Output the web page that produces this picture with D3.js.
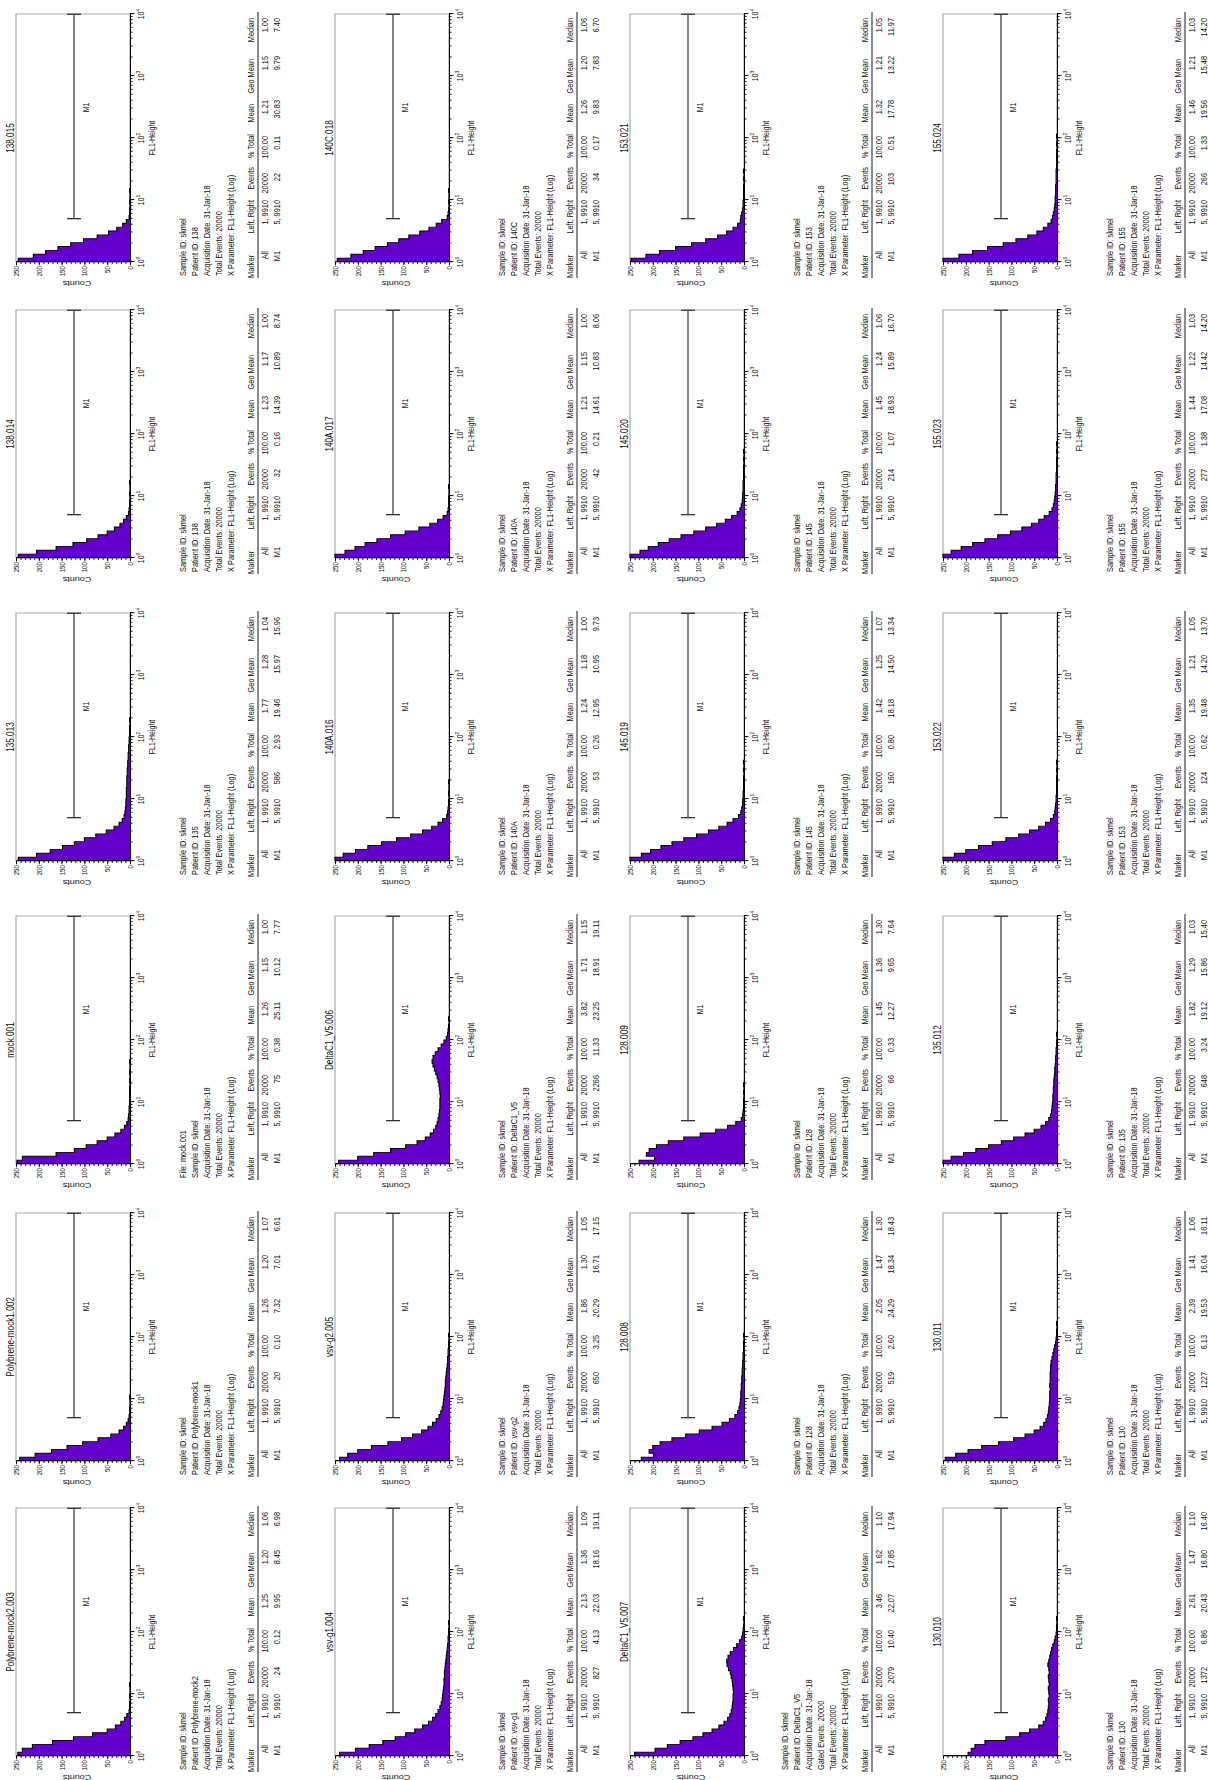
<!DOCTYPE html>
<html>
<head>
<meta charset="utf-8">
<title>FL1-Height histograms</title>
<script src="https://cdn.jsdelivr.net/npm/d3@7"></script>
<style>
  body { margin: 0; background: #fff; }
  svg text { font-family: "Liberation Sans", Arial, sans-serif; fill: #111; }
  .axis .domain, .axis line { stroke: #000; }
</style>
</head>
<body>
<svg id="chart" width="1208" height="1780"></svg>
<script>
// --- Data: panels in page order (4 rows x 6 columns, read left to right) ---
const panelNames = [
  "Polybrene-mock2.003", "Polybrene-mock1.002", "mock.001", "135.013", "138.014", "138.015",
  "vsv-g1.004", "vsv-g2.005", "DeltaC1_V5.006", "140A.016", "140A.017", "140C.018",
  "DeltaC1_V5.007", "128.008", "128.009", "145.019", "145.020", "153.021",
  "130.010", "130.011", "135.012", "153.022", "155.023", "155.024"
];

const patientIds = [
  "Polybrene-mock2", "Polybrene-mock1", null, "135", "138", "138",
  "vsv-g1", "vsv-g2", "DeltaC1_V5", "140A", "140A", "140C",
  "DeltaC1_V5", "128", "128", "145", "145", "153",
  "130", "130", "135", "153", "155", "155"
];

const allMean    = ["1.25","1.26","1.26","1.77","1.23","1.21", "2.13","1.86","3.82","1.24","1.21","1.26",
                    "3.46","2.05","1.45","1.42","1.45","1.32", "2.61","2.39","1.82","1.35","1.44","1.46"];
const allGeoMean = ["1.20","1.20","1.15","1.28","1.17","1.15", "1.36","1.30","1.71","1.18","1.15","1.20",
                    "1.62","1.47","1.36","1.25","1.24","1.21", "1.47","1.41","1.29","1.21","1.22","1.21"];
const allMedian  = ["1.06","1.07","1.00","1.04","1.00","1.00", "1.09","1.05","1.15","1.00","1.00","1.06",
                    "1.10","1.30","1.30","1.07","1.06","1.05", "1.10","1.06","1.03","1.05","1.03","1.03"];
const m1Events   = ["24","20","75","586","32","22", "827","650","2266","53","42","34",
                    "2079","519","66","160","214","103", "1372","1227","648","124","277","266"];
const m1Total    = ["0.12","0.10","0.38","2.93","0.16","0.11", "4.13","3.25","11.33","0.26","0.21","0.17",
                    "10.40","2.60","0.33","0.80","1.07","0.51", "6.86","6.13","3.24","0.62","1.38","1.33"];
const m1Mean     = ["9.95","7.32","25.11","19.46","14.39","30.83", "22.03","20.29","23.25","12.95","14.61","9.83",
                    "22.07","24.29","12.27","18.18","18.93","17.78", "20.43","19.53","19.12","19.48","17.08","19.56"];
const m1GeoMean  = ["8.45","7.01","10.12","15.97","10.89","9.79", "18.16","16.71","18.91","10.95","10.83","7.83",
                    "17.85","18.34","9.65","14.50","15.89","13.22", "16.80","16.04","15.86","14.20","14.42","15.48"];
const m1Median   = ["6.98","6.61","7.77","15.96","8.74","7.40", "19.11","17.15","19.11","9.73","8.06","6.70",
                    "17.94","18.43","7.64","13.34","16.70","11.97", "16.40","16.11","15.40","13.70","14.20","14.20"];

// Counts per histogram bin; each bin is 1/16 of a decade, starting at 10^0
const histCounts = [
  [246, 236, 214, 170, 124, 82, 50, 32, 20, 12, 7, 2, 1, 1, 0, 1, 0, 0, 1],
  [242, 208, 172, 138, 104, 70, 42, 24, 14, 8, 4, 2, 1, 1, 0, 0, 1],
  [248, 236, 162, 122, 96, 72, 50, 33, 20, 12, 7, 4, 3, 2, 2, 1, 1, 1, 1, 1, 0, 1, 0, 1, 0, 0, 1],
  [245, 205, 175, 148, 122, 100, 75, 52, 35, 24, 17, 13, 11, 10, 9, 9, 8, 8, 8, 7, 7, 7, 6, 6, 5, 5, 4, 4, 3, 3, 2, 2, 1, 1, 1, 0, 1],
  [245, 205, 162, 125, 95, 70, 50, 34, 22, 14, 8, 3, 2, 1, 1, 0, 1, 0, 0, 1],
  [245, 212, 185, 158, 130, 102, 72, 47, 29, 16, 8, 2, 1, 1, 0, 1, 0, 0, 1],
  [240, 205, 175, 145, 118, 95, 75, 58, 45, 36, 29, 24, 20, 17, 15, 14, 13, 12, 11, 11, 10, 10, 9, 8, 7, 6, 5, 4, 3, 2, 2, 1, 1, 0, 1],
  [240, 222, 200, 170, 134, 104, 80, 60, 46, 36, 28, 22, 18, 15, 13, 12, 11, 10, 9, 8, 8, 7, 6, 5, 4, 3, 3, 2, 2, 1, 1, 0, 1],
  [242, 200, 165, 128, 95, 70, 52, 41, 34, 29, 26, 24, 22, 21, 20, 20, 20, 19, 20, 21, 22, 24, 26, 29, 32, 35, 37, 35, 30, 24, 17, 11, 6, 3, 2, 1, 0, 1],
  [250, 232, 205, 178, 148, 115, 84, 58, 38, 24, 14, 5, 3, 2, 1, 1, 0, 1, 0, 0, 1],
  [250, 228, 206, 184, 158, 128, 96, 66, 42, 25, 13, 4, 2, 1, 1, 1, 0, 0, 1],
  [245, 215, 188, 162, 135, 110, 88, 64, 44, 28, 16, 4, 2, 1, 0, 1, 0, 0, 1],
  [240, 195, 168, 140, 112, 90, 70, 55, 44, 36, 31, 28, 26, 25, 24, 24, 23, 24, 25, 26, 28, 30, 34, 37, 38, 35, 30, 23, 16, 10, 5, 3, 2, 1, 0, 1],
  [225, 198, 208, 200, 184, 158, 128, 98, 70, 48, 32, 20, 14, 11, 9, 8, 7, 7, 6, 6, 5, 5, 4, 4, 3, 3, 2, 2, 1, 1, 1, 0, 1],
  [230, 196, 214, 208, 192, 166, 132, 96, 62, 36, 18, 6, 3, 2, 1, 1, 1, 0, 1, 0, 1],
  [250, 225, 205, 182, 158, 132, 104, 78, 55, 37, 24, 12, 7, 5, 3, 3, 2, 2, 1, 1, 1, 1, 0, 1, 0, 1],
  [250, 228, 210, 188, 164, 138, 110, 84, 60, 41, 27, 15, 9, 6, 4, 3, 3, 2, 2, 2, 1, 1, 1, 1, 0, 1, 0, 1],
  [248, 215, 185, 150, 115, 84, 58, 38, 24, 14, 8, 7, 5, 3, 2, 2, 1, 1, 1, 1, 0, 1, 0, 1],
  [195, 188, 180, 158, 112, 82, 60, 40, 30, 25, 22, 20, 19, 18, 19, 17, 18, 19, 17, 18, 19, 17, 18, 20, 18, 16, 14, 12, 9, 6, 4, 2, 1, 1, 0, 1],
  [245, 222, 195, 165, 128, 95, 70, 50, 37, 29, 24, 21, 19, 18, 17, 16, 16, 16, 15, 16, 15, 15, 15, 14, 14, 13, 11, 9, 7, 5, 3, 2, 1, 1, 0, 1],
  [250, 232, 205, 178, 150, 122, 95, 70, 50, 35, 25, 18, 14, 12, 11, 10, 9, 9, 8, 8, 7, 7, 6, 5, 5, 4, 3, 3, 2, 2, 1, 1, 0, 1],
  [250, 225, 200, 172, 142, 112, 84, 60, 40, 25, 14, 8, 5, 4, 3, 2, 2, 1, 1, 1, 1, 1, 0, 1, 0, 1],
  [250, 232, 210, 185, 158, 130, 102, 77, 56, 40, 28, 17, 11, 8, 6, 5, 4, 3, 3, 2, 2, 2, 1, 1, 1, 1, 0, 1, 0, 1],
  [250, 215, 185, 152, 118, 90, 64, 44, 30, 20, 13, 10, 8, 6, 5, 4, 4, 3, 3, 3, 2, 2, 2, 2, 1, 1, 1, 1, 1, 0, 1, 0, 1]
];

const countTicks = [0, 50, 100, 150, 200, 250];
const decadeExps = [0, 1, 2, 3, 4];
const markerLeft = 5, markerRight = 9910;
const allRange = "1, 9910", m1Range = "5, 9910";
const tableHeaders = ["Marker", "Left, Right", "Events", "% Total", "Mean", "Geo Mean", "Median"];

// --- Layout (landscape page, later turned a quarter turn) ---
const SX = 0.82;                                  // page is squeezed along its long side
const colLeft = [24, 319, 616, 919, 1222, 1518];  // landscape x of each plot's left edge
const rowTop = [16, 335, 630, 943];               // landscape y of each plot's top edge
const plotW = 248 / SX, plotH = 114;
const PURPLE = "#6400cc";
const binsPerDecade = 16;
const FS = 9;
const headerRight = [7, 62, 95, 128, 158, 203, 244].map(v => v / SX);
const valueRight = [11, 62, 89, 126, 162, 206, 244].map(v => v / SX);

const svg = d3.select("#chart");
svg.append("rect").attr("width", 1208).attr("height", 1780).attr("fill", "#fff");
const page = svg.append("g").attr("transform", "translate(0,1780) rotate(-90)");

function drawPanel(idx) {
  const r = Math.floor(idx / 6), c = idx % 6;
  const g = page.append("g")
    .attr("transform", "translate(" + colLeft[c] + "," + rowTop[r] + ") scale(" + SX + ",1)");

  const x = d3.scaleLog().domain([1, 1e4]).range([0, plotW]);
  const y = d3.scaleLinear().domain([0, 250]).range([plotH, 0]).clamp(true);

  // Frame
  g.append("rect").attr("width", plotW).attr("height", plotH)
    .attr("fill", "none").attr("stroke", "#999").attr("stroke-width", 1);

  // Histogram
  const counts = histCounts[idx];
  const pts = counts.map(function (v, i) { return { e: Math.pow(10, i / binsPerDecade), v: v }; });
  pts.push({ e: Math.pow(10, counts.length / binsPerDecade), v: 0 });
  const area = d3.area().curve(d3.curveStepAfter)
    .x(function (d) { return x(d.e); })
    .y0(plotH)
    .y1(function (d) { return y(d.v); });
  g.append("path").datum(pts).attr("d", area).attr("fill", PURPLE);
  g.append("path").datum(pts).attr("d", area.lineY1())
    .attr("fill", "none").attr("stroke", "#000").attr("stroke-width", 1.1);

  // X axis (log, minor + major ticks)
  g.append("g").attr("class", "axis").attr("transform", "translate(0," + plotH + ")")
    .call(d3.axisBottom(x).tickValues(x.ticks()).tickSize(2.5).tickSizeOuter(0).tickFormat(""));
  g.append("g").attr("class", "axis").attr("transform", "translate(0," + plotH + ")")
    .call(d3.axisBottom(x).tickValues(decadeExps.map(function (e) { return Math.pow(10, e); }))
      .tickSize(4.5).tickSizeOuter(0).tickFormat(""));
  decadeExps.forEach(function (e) {
    const t = g.append("text").attr("x", x(Math.pow(10, e))).attr("y", plotH + 14)
      .attr("text-anchor", "middle").attr("font-size", 8.5);
    t.append("tspan").text("10");
    t.append("tspan").attr("dy", -4).attr("font-size", 6).text(e);
  });
  g.append("text").attr("x", x(100)).attr("y", plotH + 25)
    .attr("text-anchor", "middle").attr("font-size", 8.5).text("FL1-Height");

  // Y axis
  g.append("g").attr("class", "axis")
    .call(d3.axisLeft(y).tickValues(d3.range(0, 251, 10)).tickSize(2.5).tickSizeOuter(0).tickFormat(""));
  const ya = g.append("g").attr("class", "axis")
    .call(d3.axisLeft(y).tickValues(countTicks).tickSize(4).tickPadding(1).tickSizeOuter(0));
  ya.selectAll("text").attr("font-size", 7.5).attr("font-family", null);
  g.append("text").attr("transform", "translate(-23," + (plotH / 2 + 4) + ") rotate(-90)")
    .attr("text-anchor", "middle").attr("font-size", 9).text("Counts");

  // Marker M1
  const barY = plotH / 2 + 1;
  const x1 = x(markerLeft), x2 = x(markerRight);
  g.append("line").attr("x1", x1).attr("x2", x2).attr("y1", barY).attr("y2", barY)
    .attr("stroke", "#333").attr("stroke-width", 1.2);
  [x1, x2].forEach(function (xx) {
    g.append("line").attr("x1", xx).attr("x2", xx).attr("y1", barY - 7).attr("y2", barY + 7)
      .attr("stroke", "#333").attr("stroke-width", 1.6);
  });
  g.append("text").attr("x", (x1 + x2) / 2 + 9 / SX).attr("y", barY + 15)
    .attr("text-anchor", "middle").attr("font-size", 8.5).text("M1");

  // Title
  g.append("text").attr("x", plotW / 2).attr("y", -2)
    .attr("text-anchor", "middle").attr("font-size", 10).text(panelNames[idx]);

  // Info lines
  let lines;
  if (patientIds[idx] === null) {
    lines = ["File: " + panelNames[idx], "Sample ID: skmel"];
  } else {
    lines = ["Sample ID: skmel", "Patient ID: " + patientIds[idx]];
  }
  lines.push("Acquisition Date: 31-Jan-18");
  if (panelNames[idx] === "DeltaC1_V5.007") lines.push("Gated Events: 20000");
  lines.push("Total Events: 20000", "X Parameter: FL1-Height (Log)");
  const firstLine = plotH + 104 - 12 * (lines.length - 1);
  lines.forEach(function (s, k) {
    g.append("text").attr("x", -14 / SX).attr("y", firstLine + 12 * k)
      .attr("font-size", FS).text(s);
  });

  // Stats table
  const hy = plotH + 124;
  tableHeaders.forEach(function (h, k) {
    g.append("text").attr("x", headerRight[k]).attr("y", hy)
      .attr("text-anchor", "end").attr("font-size", FS).text(h);
  });
  g.append("line").attr("x1", -16 / SX).attr("x2", 250 / SX).attr("y1", hy + 4).attr("y2", hy + 4)
    .attr("stroke", "#000").attr("stroke-width", 1);
  const rows = [
    ["All", allRange, "20000", "100.00", allMean[idx], allGeoMean[idx], allMedian[idx]],
    ["M1", m1Range, m1Events[idx], m1Total[idx], m1Mean[idx], m1GeoMean[idx], m1Median[idx]]
  ];
  rows.forEach(function (row, ri) {
    row.forEach(function (v, k) {
      g.append("text").attr("x", valueRight[k]).attr("y", hy + 14 + 12 * ri)
        .attr("text-anchor", "end").attr("font-size", FS).text(v);
    });
  });
}

d3.range(panelNames.length).forEach(drawPanel);
</script>
</body>
</html>
